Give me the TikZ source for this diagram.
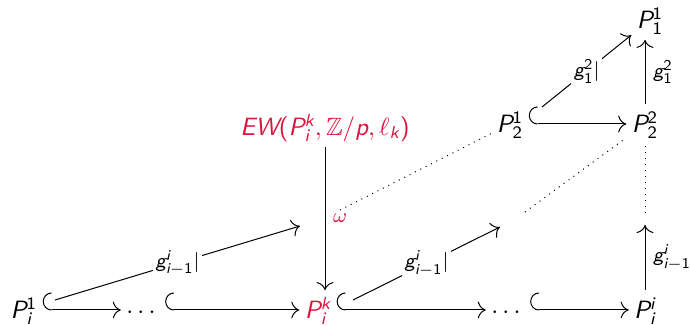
\documentclass[tikz,border=0pt]{standalone}
\usepackage{amsmath,amssymb}
\usepackage{tikz}
\usetikzlibrary{arrows.meta,positioning,calc}

% sans serif math letters and digits
\DeclareSymbolFont{sfletters}{TU}{lmss}{m}{sl}
\DeclareSymbolFont{sfupright}{TU}{lmss}{m}{n}
\makeatletter
\@tempcnta=`A
\loop
  \Umathcode\@tempcnta=7 \symsfletters \@tempcnta
  \advance\@tempcnta 1
\ifnum\@tempcnta<`[ \repeat
\@tempcnta=`a
\loop
  \Umathcode\@tempcnta=7 \symsfletters \@tempcnta
  \advance\@tempcnta 1
\ifnum\@tempcnta<`\{ \repeat
\@tempcnta=`0
\loop
  \Umathcode\@tempcnta=7 \symsfupright \@tempcnta
  \advance\@tempcnta 1
\ifnum\@tempcnta<`: \repeat
\makeatother
\Umathcode`(=4 \symsfupright `(
\Umathcode`)=5 \symsfupright `)
\Umathcode`/=0 \symsfupright `/

\definecolor{ewred}{RGB}{220,20,60}

\begin{document}
\begin{tikzpicture}[x=0.4pt,y=0.4pt,
    every node/.style={inner sep=2pt, text height=9pt, text depth=2.5pt},
    map/.style={-{Computer Modern Rightarrow[scale=1.3]}},
    incl/.style={{Hooks[right,width=14pt,length=3.5pt]}-{Computer Modern Rightarrow[scale=1.3]}},
    lab/.style={font=\footnotesize, text height=, text depth=, inner sep=3pt},
    restr/.style={lab, midway, fill=white, inner sep=1pt}]
    \useasboundingbox (0,0) rectangle (690,325);

    % bottom row
    \node (Pi1) at (24,15) {$P_i^1$};
    \node (dots1) at (143,15) {$\cdots$};
    \node[ewred] (Pik) at (318,15) {$P_i^k$};
    \node (dots2) at (508,15) {$\cdots$};
    \node (Pii) at (645,15) {$P_i^i$};

    % top part
    \node (P21) at (510,201) {$P_2^1$};
    \node (P22) at (645,201) {$P_2^2$};
    \node (P11) at (650,305) {$P_1^1$};
    \node[ewred] (EW) at (325,198) {$EW(P_i^k,\mathbb{Z}/p,\ell_k)$};

    \coordinate (d1s) at (55,25);
    \coordinate (d1e) at (300,99);
    \coordinate (d2s) at (353,25);
    \coordinate (d2e) at (500,98);
    \coordinate (d3s) at (542,218);
    \coordinate (o1) at (340,115);
    \coordinate (o2) at (525,113);
    \coordinate (va) at (645,100);
    \coordinate (vb) at (645,112);

    \draw[incl] (Pi1) -- (dots1);
    \draw[incl] (dots1) -- (Pik);
    \draw[incl] (Pik) -- (dots2);
    \draw[incl] (dots2) -- (Pii);
    \draw[incl] (P21) -- (P22);

    \draw[map] (d1s) -- (d1e) node[restr] {$g_{i-1}^i|$};
    \draw[map] (d2s) -- (d2e) node[restr] {$g_{i-1}^i|$};
    \draw[map] (d3s) -- (P11) node[restr] {$g_1^2|$};

    \draw[map] (EW) -- (EW |- Pik.north) node[lab, midway, right, ewred] {$\omega$};
    \draw[map] (Pii) -- (va) node[lab, midway, right] {$g_{i-1}^i$};
    \draw[map] (P22) -- (P22 |- P11.south) node[lab, midway, right] {$g_1^2$};

    % dotted continuations
    \draw[dotted] (o1) -- (P21);
    \draw[dotted] (o2) -- (P22);
    \draw[dotted] (vb) -- (vb |- P22.south);
\end{tikzpicture}
\end{document}
